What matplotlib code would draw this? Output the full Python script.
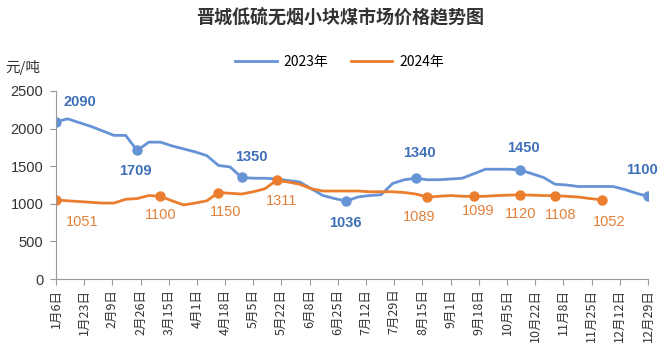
import matplotlib
matplotlib.use('Agg')
import matplotlib.pyplot as plt
from matplotlib.lines import Line2D
import pandas as pd

plt.rcParams['font.family'] = ['Noto Sans CJK SC', 'DejaVu Sans']

# weekly prices (yuan/ton), week dates of 2023
dates = pd.date_range("2023-01-06", periods=52, freq="7D")
tick_dates = pd.date_range("2023-01-06", periods=22, freq="17D")
tick_labels = [f"{d.month}月{d.day}日" for d in tick_dates]

price_2023 = [2090, 2130, 2080, 2030, 1970, 1910, 1910, 1709, 1820, 1820,
              1770, 1730, 1690, 1640, 1510, 1490, 1350, 1340, 1340, 1330,
              1310, 1290, 1200, 1110, 1070, 1036, 1090, 1110, 1120, 1270,
              1320, 1340, 1320, 1320, 1330, 1340, 1400, 1460, 1460, 1460,
              1450, 1400, 1350, 1260, 1250, 1230, 1230, 1230, 1230, 1190,
              1140, 1100]
price_2024 = [1051, 1040, 1030, 1020, 1010, 1010, 1060, 1070, 1110, 1100,
              1040, 985, 1010, 1040, 1150, 1140, 1130, 1160, 1200, 1311,
              1290, 1260, 1200, 1170, 1170, 1170, 1170, 1160, 1160, 1160,
              1150, 1130, 1089, 1100, 1110, 1100, 1099, 1100, 1110, 1115,
              1120, 1115, 1110, 1108, 1100, 1090, 1070, 1052]

# labelled weeks and label offsets (pixels)
marks_2023 = [0, 7, 16, 25, 31, 40, 51]
offs_2023 = [(24, 20), (-2, -21), (10, 20), (-1, -22), (4, 25), (3, 22), (-6, 26)]
marks_2024 = [0, 9, 14, 19, 32, 36, 40, 43, 47]
offs_2024 = [(26, -22), (0, -19), (7, -19), (5, -21), (-8, -20), (4, -15),
             (0, -19), (5, -19), (8, -22)]

blue = "#6693D6"
blue_txt = "#3F70B8"
orange = "#EA7E2E"
orange_txt = "#E0803A"

fig = plt.figure(figsize=(6.66, 3.64), dpi=100)
ax = fig.add_axes([0.084, 0.2335, 0.889, 0.5165])

ax.plot(dates, price_2023, color=blue, lw=2, marker="o", ms=6.5,
        markevery=marks_2023, solid_joinstyle="round")
ax.plot(dates[:len(price_2024)], price_2024, color=orange, lw=2, marker="o", ms=6.5,
        markevery=marks_2024, solid_joinstyle="round")

for k, (dx, dy) in zip(marks_2023, offs_2023):
    ax.annotate(str(price_2023[k]), (dates[k], price_2023[k]), xytext=(dx, dy),
                textcoords="offset pixels", ha="center", va="center",
                color=blue_txt, fontsize=10.5, fontweight="bold", family="Liberation Sans")
for k, (dx, dy) in zip(marks_2024, offs_2024):
    ax.annotate(str(price_2024[k]), (dates[k], price_2024[k]), xytext=(dx, dy),
                textcoords="offset pixels", ha="center", va="center",
                color=orange_txt, fontsize=10.5, family="Liberation Sans")

ax.set_xlim(dates[0], dates[-1])
ax.set_ylim(0, 2500)
ax.set_yticks(range(0, 2501, 500))
ax.set_xticks(tick_dates)
ax.set_xticklabels(tick_labels, rotation=90, fontsize=9, color="#333333")
ax.tick_params(axis="y", labelsize=10.5, length=4, color="#999999", pad=5,
               labelcolor="#333333")
ax.tick_params(axis="x", length=4, color="#999999", pad=3)
for lab in ax.get_yticklabels():
    lab.set_family("Liberation Sans")

for s in ["top", "right"]:
    ax.spines[s].set_visible(False)
for s in ["left", "bottom"]:
    ax.spines[s].set_color("#999999")

fig.text(0.51, 0.95, "晋城低硫无烟小块煤市场价格趋势图", ha="center", va="center",
         fontsize=13, fontweight="bold", color="#333333")
fig.text(0.008, 0.815, "元/吨", ha="left", va="center", fontsize=10.5, color="#333333")

handles = [Line2D([], [], color=blue, lw=2), Line2D([], [], color=orange, lw=2)]
fig.legend(handles, ["2023年", "2024年"], loc="center", bbox_to_anchor=(0.51, 0.83),
           ncol=2, frameon=False, fontsize=10, handlelength=3.0,
           columnspacing=1.6, handletextpad=0.5)

fig.savefig("out.png", dpi=100)
